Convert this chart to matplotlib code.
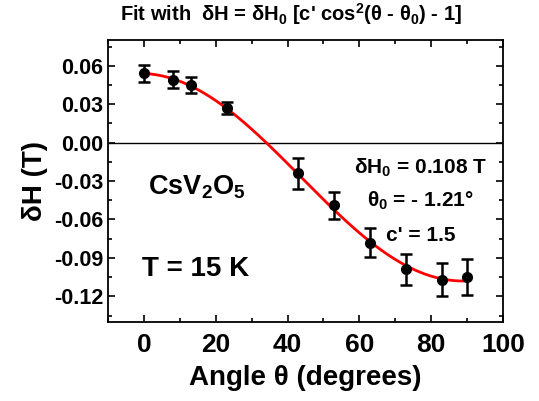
import matplotlib
matplotlib.use("Agg")
import matplotlib.pyplot as plt
import numpy as np
from matplotlib.ticker import MultipleLocator, FormatStrFormatter

plt.rcParams['font.family'] = ['Liberation Sans', 'DejaVu Sans']
plt.rcParams['font.weight'] = 'bold'
plt.rcParams['mathtext.fontset'] = 'custom'
plt.rcParams['mathtext.rm'] = 'Liberation Sans:bold'
plt.rcParams['mathtext.bf'] = 'Liberation Sans:bold'
plt.rcParams['mathtext.it'] = 'Liberation Sans:bold'
plt.rcParams['mathtext.default'] = 'bf'

# measured points
angle = [0, 8, 13, 23, 43, 53, 63, 73, 83, 90]
dH = [0.054, 0.049, 0.045, 0.027, -0.024, -0.049, -0.078, -0.099, -0.107, -0.105]
err = [0.0068, 0.0065, 0.006, 0.0048, 0.0123, 0.0104, 0.0113, 0.0122, 0.013, 0.0143]

# fit parameters shown on the chart
dH0 = 0.108
theta0 = -1.21
c = 1.5

th = np.linspace(0, 90, 200)
fit = dH0 * (c * np.cos(np.radians(th - theta0))**2 - 1)

fig = plt.figure(figsize=(5.39, 4.01), dpi=100)
ax = fig.add_axes([0.2004, 0.197, 0.7328, 0.703])

ax.axhline(0, color='black', lw=1.0, zorder=1)
ax.plot(th, fit, color='red', lw=2, zorder=3)
ax.errorbar(angle, dH, yerr=err, fmt='o', color='black', ms=7,
            elinewidth=1.8, capsize=4, capthick=1.8, zorder=4)

ax.set_xlim(-10, 100)
ax.set_ylim(-0.14, 0.08)
ax.xaxis.set_major_locator(MultipleLocator(20))
ax.xaxis.set_minor_locator(MultipleLocator(10))
ax.yaxis.set_major_locator(MultipleLocator(0.03))
ax.yaxis.set_minor_locator(MultipleLocator(0.015))
ax.tick_params(which='both', direction='in', top=True, right=True, width=1.2)
ax.tick_params(which='major', length=5)
ax.tick_params(which='minor', length=3)
ax.tick_params(axis='x', labelsize=19, pad=8)
ax.tick_params(axis='y', labelsize=15.5)
ax.yaxis.set_major_formatter(FormatStrFormatter('%.2f'))
for s in ax.spines.values():
    s.set_linewidth(1.3)

ax.set_xlabel('Angle θ (degrees)', fontsize=20, fontweight='bold', labelpad=6)
ax.set_ylabel('δH (T)', fontsize=20, fontweight='bold', labelpad=4)
fig.text(0.54, 0.948, "Fit with  δH = δH$_0$ [c' cos$^2$(θ - θ$_0$) - 1]",
         fontsize=14.5, fontweight='bold', ha='center', va='baseline')

ax.text(14.8, -0.0405, 'CsV$_2$O$_5$', fontsize=19.5, ha='center', va='baseline')
ax.text(14.5, -0.104, 'T = 15 K', fontsize=20, ha='center', va='baseline')
ax.text(77, -0.0242, 'δH$_0$ = 0.108 T', fontsize=15, ha='center', va='baseline')
ax.text(77, -0.0499, 'θ$_0$ = - 1.21°', fontsize=15, ha='center', va='baseline')
ax.text(77, -0.0771, "c' = 1.5", fontsize=15, ha='center', va='baseline')

fig.savefig('out.png', dpi=100)
